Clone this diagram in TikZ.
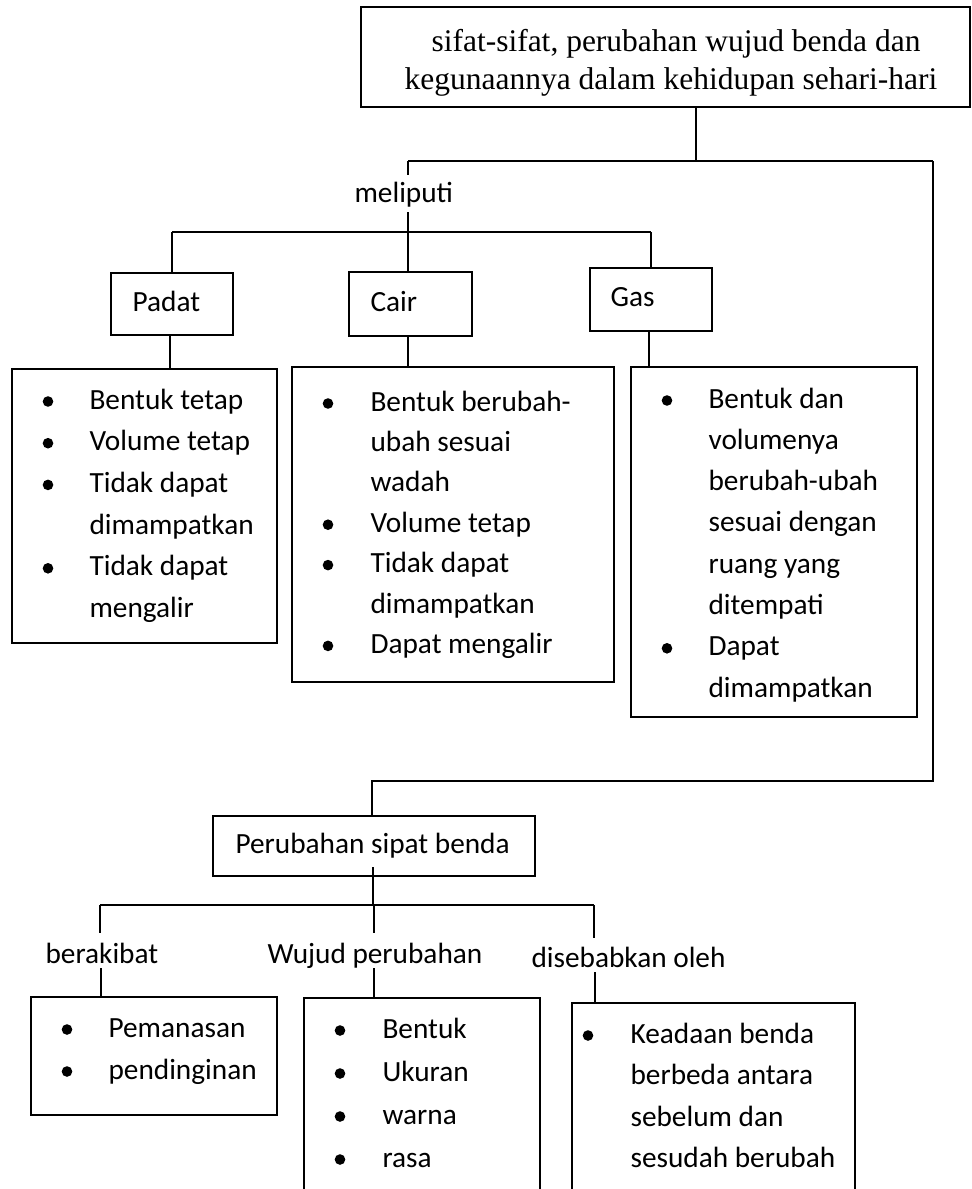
\documentclass[tikz,border=0pt]{standalone}
\usepackage{fontspec}
\setmainfont{Carlito}
\newfontfamily\tmsfont{Liberation Serif}
\newcommand\mylist[6]{%
  \foreach \f/\t [count=\i from 0] in {#6} {
    \node[txt, anchor=base west] (#1\i) at ({#3},{#4+#5*\i}) {\t};
    \ifnum\f=1 \fill ({#2},{#4+#5*\i-7.5}) circle[radius=5.3pt]; \fi
  }}
\begin{document}
\begin{tikzpicture}[x=1pt,y=-1pt, line width=1.1pt,
  box/.style={draw, inner sep=0pt, rectangle},
  txt/.style={inner sep=0pt, font=\fontsize{29.3pt}{35pt}\selectfont},
  serif/.style={inner sep=0pt, font=\tmsfont\fontsize{31.5pt}{37pt}\selectfont},
  conn/.style={draw, line width=1.1pt}]
\clip (0,0) rectangle (972,1189);
\fill[white] (0,0) rectangle (972,1189);

% ---------- top box ----------
\node[box, minimum width=609pt, minimum height=100pt] (top) at (665.5,57) {};
\node[serif, anchor=base] (top1) at (676,51) {sifat-sifat, perubahan wujud benda dan};
\node[serif, anchor=base] (top2) at (671,89) {kegunaannya dalam kehidupan sehari-hari};

% ---------- junctions ----------
\coordinate (j0) at (696,161);
\coordinate (jL) at (408,161);
\coordinate (jR) at (933,161);
\coordinate (jRb) at (933,781);
\coordinate (jPb) at (372,781);
\coordinate (m1) at (408,175);
\coordinate (m2) at (408,212);
\coordinate (hA) at (172,232);
\coordinate (hB) at (408,232);
\coordinate (hC) at (651,232);

% ---------- meliputi ----------
\node[txt, anchor=base west] (meliputi) at (354,202) {meliputi};

% ---------- state boxes ----------
\node[box, minimum width=122pt, minimum height=62pt] (padat) at (172,304) {};
\node[txt, anchor=base west] (padatT) at (132,311) {Padat};
\node[box, minimum width=123pt, minimum height=64pt] (cair) at (410.5,304) {};
\node[txt, anchor=base west] (cairT) at (370,311) {Cair};
\node[box, minimum width=122pt, minimum height=63pt] (gas) at (651,299.5) {};
\node[txt, anchor=base west] (gasT) at (610,306) {Gas};

% ---------- property lists ----------
\node[box, minimum width=265pt, minimum height=274pt] (padatL) at (144.5,506) {};
\mylist{pl}{48}{89}{409}{41.7}{1/Bentuk tetap, 1/Volume tetap, 1/Tidak dapat, 0/dimampatkan, 1/Tidak dapat, 0/mengalir}
\node[box, minimum width=322pt, minimum height=315pt] (cairL) at (453,524.5) {};
\mylist{cl}{328}{370}{411}{40.4}{1/Bentuk berubah-, 0/ubah sesuai, 0/wadah, 1/Volume tetap, 1/Tidak dapat, 0/dimampatkan, 1/Dapat mengalir}
\node[box, minimum width=286pt, minimum height=350pt] (gasL) at (774,542) {};
\mylist{gl}{667}{708}{408}{41.3}{1/Bentuk dan, 0/volumenya, 0/berubah-ubah, 0/sesuai dengan, 0/ruang yang, 0/ditempati, 1/Dapat, 0/dimampatkan}

% ---------- Perubahan sipat benda ----------
\node[box, minimum width=322pt, minimum height=60pt] (perub) at (374,846) {};
\node[txt, anchor=base west] (perubT) at (235,853) {Perubahan sipat benda};
\coordinate (p0) at (373,867);
\coordinate (k0) at (373,905);
\coordinate (kA) at (100,905);
\coordinate (kC) at (594,905);
\coordinate (a1) at (100,933);
\coordinate (a2) at (101,968);
\coordinate (b1) at (374,933);
\coordinate (b2) at (374,968);
\coordinate (c1) at (594,938);
\coordinate (c2) at (595,972);

\node[txt, anchor=base west] (berakibat) at (45,963) {berakibat};
\node[txt, anchor=base west] (wujud) at (267,963) {Wujud perubahan};
\node[txt, anchor=base west] (sebab) at (531,967) {disebabkan oleh};

% ---------- bottom lists ----------
\node[box, minimum width=246pt, minimum height=118pt] (bA) at (154,1056) {};
\mylist{al}{67}{108}{1037}{42}{1/Pemanasan, 1/pendinginan}
\node[box, minimum width=236pt, minimum height=232pt] (bB) at (422,1114) {};
\mylist{bl}{340}{382}{1038}{43}{1/Bentuk, 1/Ukuran, 1/warna, 1/rasa}
\node[box, minimum width=283pt, minimum height=227pt] (bC) at (713.5,1116.5) {};
\mylist{xl}{588}{630}{1043}{41.5}{1/Keadaan benda, 0/berbeda antara, 0/sebelum dan, 0/sesudah berubah}

% ---------- connectors ----------
\draw[conn] (top.south -| j0) -- (j0);
\draw[conn] (jL) -- (jR);
\draw[conn] (jL) -- (m1);
\draw[conn] (m2) -- (hB |- cair.north);
\draw[conn] (hA) -- (hC);
\draw[conn] (hA) -- (padat.north);
\draw[conn] (hC) -- (gas.north);
\draw[conn] (170,335) -- (170,369);
\draw[conn] (cair.south -| hB) -- (cairL.north -| hB);
\draw[conn] (gas.south -| 649,0) -- (gasL.north -| 649,0);
\draw[conn] (jR) -- (jRb) -- (jPb) -- (perub.north -| jPb);
\draw[conn] (p0) -- (k0);
\draw[conn] (kA) -- (kC);
\draw[conn] (kA) -- (a1);
\draw[conn] (a2) -- (bA.north -| a2);
\draw[conn] (k0 -| b1) -- (b1);
\draw[conn] (b2) -- (bB.north -| b2);
\draw[conn] (kC) -- (c1);
\draw[conn] (c2) -- (bC.north -| c2);
\end{tikzpicture}
\end{document}
